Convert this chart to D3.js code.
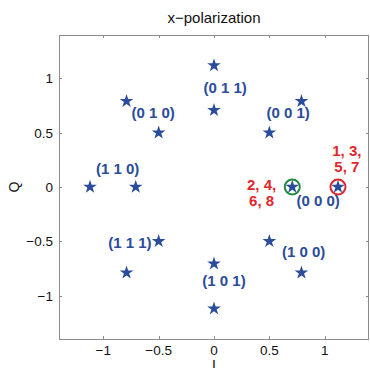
<!DOCTYPE html>
<html>
<head>
<meta charset="utf-8">
<script src="https://cdn.jsdelivr.net/npm/d3@7"></script>
<style>
  body { margin: 0; background: #fff; }
  svg { display: block; font-family: "Liberation Sans", Arial, sans-serif; }
  .tick-label { font-size: 13.5px; fill: #111; }
  .pt-label { font-size: 15px; font-weight: bold; fill: #2b4c9a; }
  .red-label { font-size: 15px; font-weight: bold; fill: #e3262b; }
</style>
</head>
<body>
<div id="chart"></div>
<script>
  // constellation points (I, Q)
  const pointsI = [0.707, 1.12, 0.5, 0.79, 0, 0, -0.5, -0.79, -0.707, -1.12, -0.5, -0.79, 0, 0, 0.5, 0.79];
  const pointsQ = [0, 0, 0.5, 0.79, 0.707, 1.12, 0.5, 0.79, 0, 0, -0.5, -0.79, -0.707, -1.12, -0.5, -0.79];

  // bit labels and where they sit (data coords)
  const bitLabels = ["(0 0 0)", "(0 0 1)", "(0 1 1)", "(0 1 0)", "(1 1 0)", "(1 1 1)", "(1 0 1)", "(1 0 0)"];
  const bitLabelI = [0.94, 0.67, 0.1, -0.55, -0.87, -0.76, 0.09, 0.81];
  const bitLabelQ = [-0.13, 0.68, 0.91, 0.68, 0.165, -0.52, -0.87, -0.6];

  // highlighted points
  const markI = [0.707, 1.12];
  const markColors = ["#1e8c3c", "#e3262b"];
  const redLines = [["2, 4,", "6, 8"], ["1, 3,", "5, 7"]];
  const redI = [0.43, 1.2];
  const redQ = [0.02, 0.33];

  const ticks = [-1, -0.5, 0, 0.5, 1];
  const tickText = ["\u22121", "\u22120.5", "0", "0.5", "1"];

  const W = 370, H = 368;
  const mLeft = 59, mRight = 369, mTop = 35, mBottom = 339;

  const x = d3.scaleLinear().domain([-1.4, 1.4]).range([mLeft, mRight]);
  const y = d3.scaleLinear().domain([-1.4, 1.4]).range([mBottom, mTop]);

  const svg = d3.select("#chart").append("svg").attr("width", W).attr("height", H);

  // frame
  svg.append("rect")
    .attr("x", mLeft + 0.5).attr("y", mTop + 0.5)
    .attr("width", mRight - mLeft - 1).attr("height", mBottom - mTop)
    .attr("fill", "none").attr("stroke", "#8c8c8c").attr("stroke-width", 1);

  // inward ticks, all four sides
  const tl = 3;
  ticks.forEach((t, i) => {
    const px = Math.round(x(t)) + 0.5, py = Math.round(y(t)) + 0.5;
    svg.append("line").attr("x1", px).attr("x2", px).attr("y1", mBottom).attr("y2", mBottom - tl).attr("stroke", "#8c8c8c");
    svg.append("line").attr("x1", px).attr("x2", px).attr("y1", mTop).attr("y2", mTop + tl).attr("stroke", "#8c8c8c");
    svg.append("line").attr("y1", py).attr("y2", py).attr("x1", mLeft).attr("x2", mLeft + tl).attr("stroke", "#8c8c8c");
    svg.append("line").attr("y1", py).attr("y2", py).attr("x1", mRight).attr("x2", mRight - tl).attr("stroke", "#8c8c8c");

    svg.append("text").attr("class", "tick-label")
      .attr("x", x(t)).attr("y", mBottom + 16)
      .attr("text-anchor", "middle").text(tickText[i]);
    svg.append("text").attr("class", "tick-label")
      .attr("x", mLeft - 6).attr("y", y(t) + 5)
      .attr("text-anchor", "end").text(tickText[i]);
  });

  // title and axis labels
  svg.append("text").attr("x", x(0)).attr("y", 23)
    .attr("text-anchor", "middle").attr("font-size", 15).attr("fill", "#111")
    .text("x\u2212polarization");
  svg.append("text").attr("x", x(0)).attr("y", 370)
    .attr("text-anchor", "middle").attr("font-size", 14).attr("fill", "#111").text("I");
  svg.append("text")
    .attr("transform", `translate(19,${y(0)}) rotate(-90)`)
    .attr("text-anchor", "middle").attr("font-size", 14).attr("fill", "#111").text("Q");

  // highlight circles
  markI.forEach((v, i) => {
    svg.append("circle").attr("cx", x(v)).attr("cy", y(0)).attr("r", 7.5)
      .attr("fill", "none").attr("stroke", markColors[i]).attr("stroke-width", 2);
  });

  // stars
  const star = d3.symbol().type(d3.symbolStar).size(58);
  svg.selectAll(".star").data(pointsI).join("path")
    .attr("class", "star")
    .attr("d", star)
    .attr("transform", (d, i) => `translate(${x(d)},${y(pointsQ[i])})`)
    .attr("fill", "#2b4c9a");

  // bit labels
  svg.selectAll(".pt-label").data(bitLabels).join("text")
    .attr("class", "pt-label")
    .attr("x", (d, i) => x(bitLabelI[i]))
    .attr("y", (d, i) => y(bitLabelQ[i]) + 5)
    .attr("text-anchor", "middle")
    .text(d => d);

  // red index labels
  redLines.forEach((lines, i) => {
    lines.forEach((s, j) => {
      svg.append("text").attr("class", "red-label")
        .attr("x", x(redI[i])).attr("y", y(redQ[i]) + 5 + j * 16)
        .attr("text-anchor", "middle").text(s);
    });
  });
</script>
</body>
</html>
